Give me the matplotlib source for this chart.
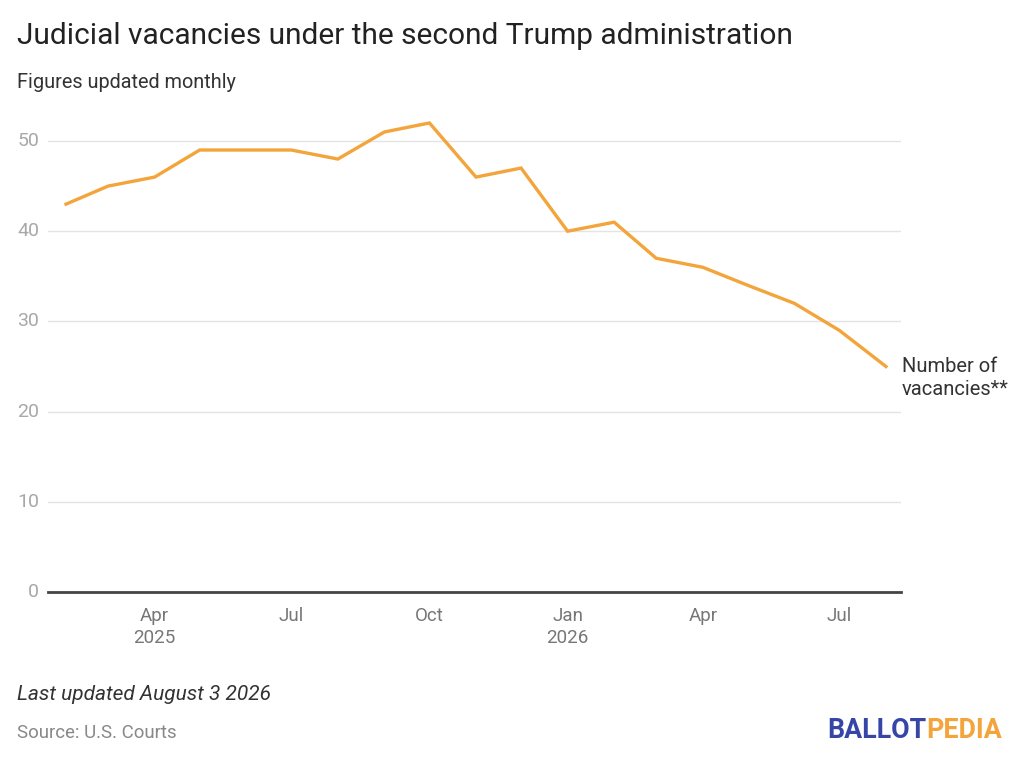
import matplotlib
matplotlib.use("Agg")
import matplotlib.pyplot as plt
import pandas as pd

plt.rcParams["font.family"] = ["Roboto", "DejaVu Sans"]

# Данные: вакансии в судах по месяцам
months = pd.date_range("2025-02-01", "2026-08-01", freq="MS")
vacancies = [43, 45, 46, 49, 49, 49, 48, 51, 52, 46, 47, 40, 41, 37, 36, 34, 32, 29, 25]
tick_dates = pd.to_datetime(["2025-04-01", "2025-07-01", "2025-10-01",
                             "2026-01-01", "2026-04-01", "2026-07-01"])
tick_labels = ["Apr\n2025", "Jul", "Oct", "Jan\n2026", "Apr", "Jul"]
y_ticks = [0, 10, 20, 30, 40, 50]

W, H = 1024, 760
fig = plt.figure(figsize=(W / 100, H / 100), dpi=100)
ax = fig.add_axes([48 / W, (H - 592) / H, (901 - 48) / W, (592 - 110) / H])

ax.plot(months, vacancies, color="#F3A43B", linewidth=2.4, solid_joinstyle="miter")

ax.set_ylim(0, (592 - 110) / 9.02)
ax.set_xlim(pd.Timestamp("2025-01-20"), pd.Timestamp("2026-08-11"))
ax.set_yticks(y_ticks)
ax.set_yticklabels([str(v) for v in y_ticks])
ax.set_xticks(tick_dates)
ax.set_xticklabels(tick_labels, linespacing=1.32)

ax.grid(axis="y", color="#e4e4e4", linewidth=1)
ax.set_axisbelow(True)
for s in ["top", "right", "left"]:
    ax.spines[s].set_visible(False)
ax.spines["bottom"].set_color("#444444")
ax.spines["bottom"].set_linewidth(2)
ax.tick_params(axis="y", length=0, pad=6.5, labelsize=14, labelcolor="#a8a8a8")
ax.tick_params(axis="x", length=0, pad=10.5, labelsize=13.5, labelcolor="#777777")
for lbl in ax.get_yticklabels():
    lbl.set_verticalalignment("center")

ax.annotate("Number of\nvacancies**", xy=(months[-1], vacancies[-1]),
            xytext=(11.5, -8.5), textcoords="offset points",
            ha="left", va="center", fontsize=14.5, color="#333333",
            linespacing=1.27, annotation_clip=False)

fig.text(17 / W, 1 - 36 / H, "Judicial vacancies under the second Trump administration",
         fontsize=21.5, color="#222222", va="center", ha="left")
fig.text(17 / W, 1 - 82 / H, "Figures updated monthly",
         fontsize=14.3, color="#333333", va="center", ha="left")
fig.text(17 / W, 1 - 695 / H, "Last updated August 3 2026",
         fontsize=15, color="#333333", style="italic", va="center", ha="left")
fig.text(17 / W, 1 - 733 / H, "Source: U.S. Courts",
         fontsize=13.4, color="#888888", va="center", ha="left")

# логотип из двух цветов
t1 = fig.text(827 / W, 1 - 730 / H, "BALLOT", fontsize=19.3, fontweight="bold",
              color="#3546A6", va="center", ha="left")
fig.canvas.draw()
bb = t1.get_window_extent()
fig.text(bb.x1 / W, 1 - 730 / H, "PEDIA", fontsize=19.3, fontweight="bold",
         color="#F3A43B", va="center", ha="left")

fig.savefig("out.png", dpi=100)
